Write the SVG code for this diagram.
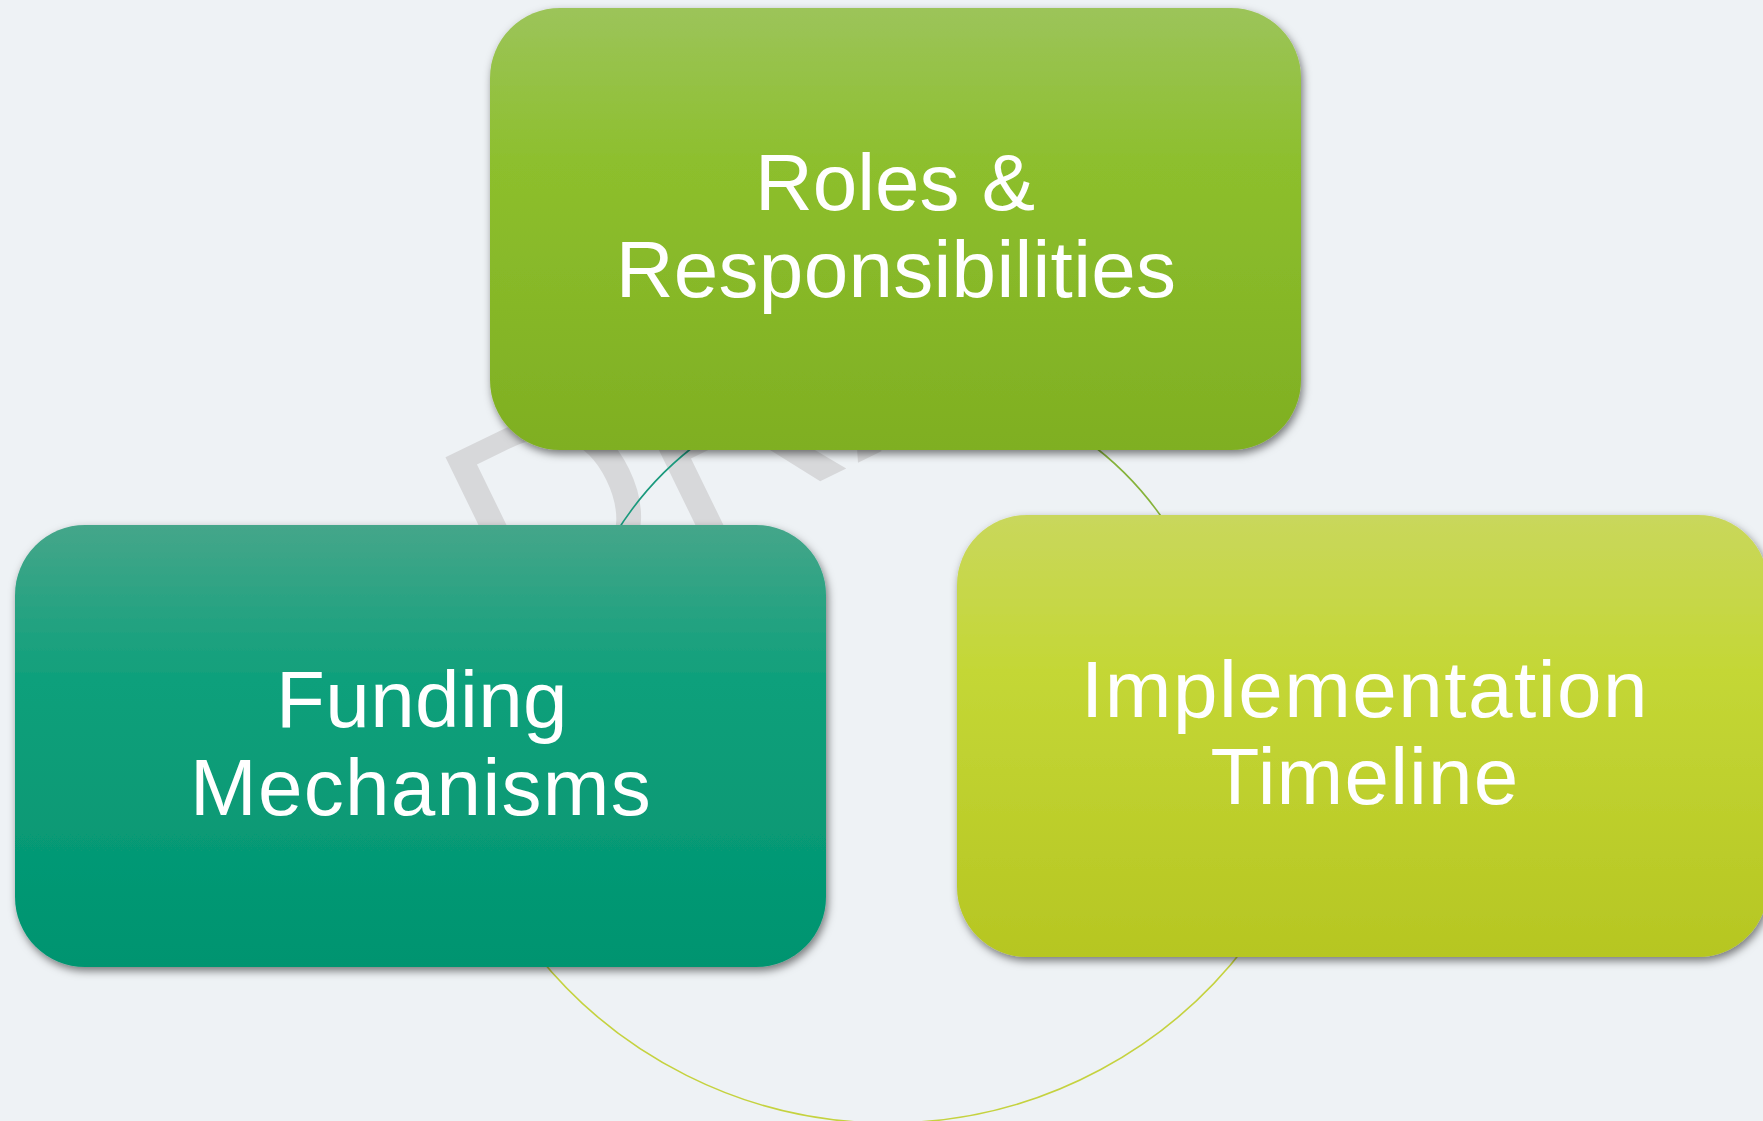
<svg xmlns="http://www.w3.org/2000/svg" width="1763" height="1121" viewBox="0 0 1763 1121">
  <defs>
    <linearGradient id="gTop" x1="0" y1="0" x2="0" y2="1">
      <stop offset="0" stop-color="#9cc45a"/>
      <stop offset="0.35" stop-color="#8dbf2d"/>
      <stop offset="1" stop-color="#7faf22"/>
    </linearGradient>
    <linearGradient id="gLeft" x1="0" y1="0" x2="0" y2="1">
      <stop offset="0" stop-color="#45a68a"/>
      <stop offset="0.35" stop-color="#0fa07b"/>
      <stop offset="1" stop-color="#009470"/>
    </linearGradient>
    <linearGradient id="gRight" x1="0" y1="0" x2="0" y2="1">
      <stop offset="0" stop-color="#c9d75c"/>
      <stop offset="0.35" stop-color="#c4d736"/>
      <stop offset="1" stop-color="#b6c622"/>
    </linearGradient>
    <filter id="shadow" x="-5%" y="-5%" width="110%" height="115%">
      <feDropShadow dx="2" dy="4" stdDeviation="4" flood-color="#000" flood-opacity="0.5"/>
    </filter>
  </defs>
  <style>
    .box { filter: url(#shadow); }
    .label { font-family: "Liberation Sans", Arial, sans-serif; font-size: 80px; fill: #ffffff; text-anchor: middle; }
    .arc { fill: none; stroke-width: 1.6; }
    .wm { font-family: "Liberation Sans", Arial, sans-serif; font-size: 270px; fill: #d7d8da; }
  </style>
  <rect x="0" y="0" width="1763" height="1121" fill="#eef2f5"/>
  <g id="watermark">
    <text class="wm" transform="translate(507,634) rotate(-26)">DRAFT</text>
  </g>
  <g id="connectors">
    <path class="arc" stroke="#1a9a7d" d="M 702.4 440 A 327 327 0 0 0 614.7 535"/>
    <path class="arc" stroke="#86b33a" d="M 1085.6 440 A 327 327 0 0 1 1167 525"/>
    <path class="arc" stroke="#c5d23f" d="M 537.3 955 A 450 450 0 0 0 1246.5 945"/>
  </g>
  <g id="node-roles">
    <rect class="box" x="490" y="8" width="811" height="442" rx="70" ry="70" fill="url(#gTop)"/>
    <text class="label" x="895" y="210">Roles &amp;</text>
    <text class="label" x="896" y="297" letter-spacing="0.3">Responsibilities</text>
  </g>
  <g id="node-funding">
    <rect class="box" x="15" y="525" width="811" height="442" rx="70" ry="70" fill="url(#gLeft)"/>
    <text class="label" x="422" y="727" letter-spacing="0.4">Funding</text>
    <text class="label" x="421" y="815" letter-spacing="1.3">Mechanisms</text>
  </g>
  <g id="node-timeline">
    <rect class="box" x="957" y="515" width="811" height="442" rx="70" ry="70" fill="url(#gRight)"/>
    <text class="label" x="1365" y="717" letter-spacing="1.5">Implementation</text>
    <text class="label" x="1365" y="804" letter-spacing="1.2">Timeline</text>
  </g>
</svg>
